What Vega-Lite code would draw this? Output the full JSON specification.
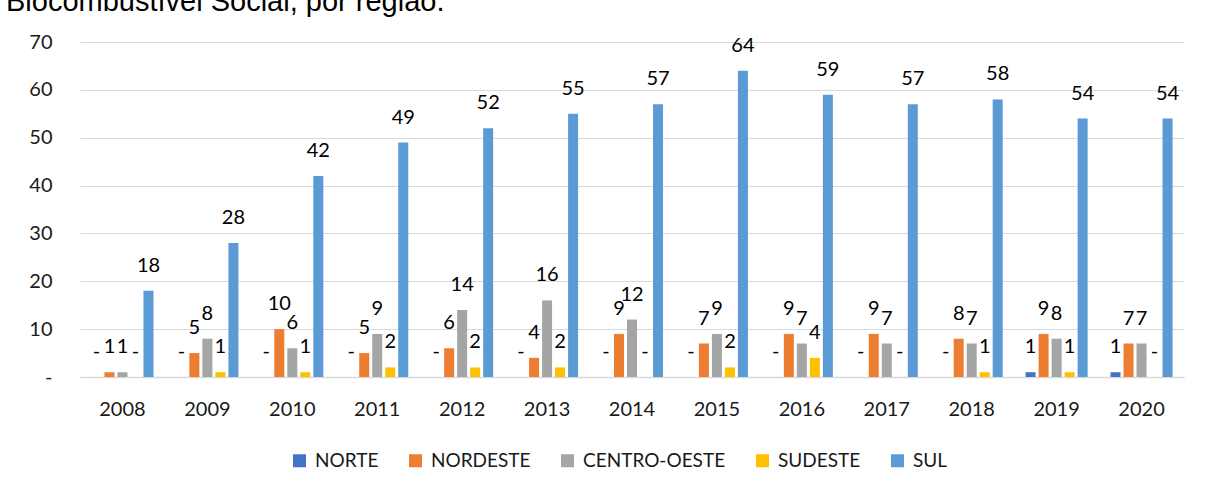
{
  "$schema": "https://vega.github.io/schema/vega-lite/v6.json",
  "autosize": {"type": "none"},
  "width": 1104,
  "height": 335,
  "padding": {"left": 80, "top": 42, "right": 28, "bottom": 114},
  "background": "white",
  "title": {
    "text": "Biocombustível Social, por região.",
    "anchor": "start",
    "frame": "group",
    "font": "Liberation Sans",
    "fontSize": 29,
    "fontWeight": "normal",
    "color": "#000000",
    "baseline": "alphabetic",
    "dx": -74,
    "offset": -8
  },
  "config": {
    "view": {"stroke": null},
    "font": "Lato"
  },
  "data": {
    "values": [
      {"ano": "2008", "regiao": "NORTE", "v": 0},
      {"ano": "2008", "regiao": "NORDESTE", "v": 1},
      {"ano": "2008", "regiao": "CENTRO-OESTE", "v": 1},
      {"ano": "2008", "regiao": "SUDESTE", "v": 0},
      {"ano": "2008", "regiao": "SUL", "v": 18},
      {"ano": "2009", "regiao": "NORTE", "v": 0},
      {"ano": "2009", "regiao": "NORDESTE", "v": 5},
      {"ano": "2009", "regiao": "CENTRO-OESTE", "v": 8},
      {"ano": "2009", "regiao": "SUDESTE", "v": 1},
      {"ano": "2009", "regiao": "SUL", "v": 28},
      {"ano": "2010", "regiao": "NORTE", "v": 0},
      {"ano": "2010", "regiao": "NORDESTE", "v": 10},
      {"ano": "2010", "regiao": "CENTRO-OESTE", "v": 6},
      {"ano": "2010", "regiao": "SUDESTE", "v": 1},
      {"ano": "2010", "regiao": "SUL", "v": 42},
      {"ano": "2011", "regiao": "NORTE", "v": 0},
      {"ano": "2011", "regiao": "NORDESTE", "v": 5},
      {"ano": "2011", "regiao": "CENTRO-OESTE", "v": 9},
      {"ano": "2011", "regiao": "SUDESTE", "v": 2},
      {"ano": "2011", "regiao": "SUL", "v": 49},
      {"ano": "2012", "regiao": "NORTE", "v": 0},
      {"ano": "2012", "regiao": "NORDESTE", "v": 6},
      {"ano": "2012", "regiao": "CENTRO-OESTE", "v": 14},
      {"ano": "2012", "regiao": "SUDESTE", "v": 2},
      {"ano": "2012", "regiao": "SUL", "v": 52},
      {"ano": "2013", "regiao": "NORTE", "v": 0},
      {"ano": "2013", "regiao": "NORDESTE", "v": 4},
      {"ano": "2013", "regiao": "CENTRO-OESTE", "v": 16},
      {"ano": "2013", "regiao": "SUDESTE", "v": 2},
      {"ano": "2013", "regiao": "SUL", "v": 55},
      {"ano": "2014", "regiao": "NORTE", "v": 0},
      {"ano": "2014", "regiao": "NORDESTE", "v": 9},
      {"ano": "2014", "regiao": "CENTRO-OESTE", "v": 12},
      {"ano": "2014", "regiao": "SUDESTE", "v": 0},
      {"ano": "2014", "regiao": "SUL", "v": 57},
      {"ano": "2015", "regiao": "NORTE", "v": 0},
      {"ano": "2015", "regiao": "NORDESTE", "v": 7},
      {"ano": "2015", "regiao": "CENTRO-OESTE", "v": 9},
      {"ano": "2015", "regiao": "SUDESTE", "v": 2},
      {"ano": "2015", "regiao": "SUL", "v": 64},
      {"ano": "2016", "regiao": "NORTE", "v": 0},
      {"ano": "2016", "regiao": "NORDESTE", "v": 9},
      {"ano": "2016", "regiao": "CENTRO-OESTE", "v": 7},
      {"ano": "2016", "regiao": "SUDESTE", "v": 4},
      {"ano": "2016", "regiao": "SUL", "v": 59},
      {"ano": "2017", "regiao": "NORTE", "v": 0},
      {"ano": "2017", "regiao": "NORDESTE", "v": 9},
      {"ano": "2017", "regiao": "CENTRO-OESTE", "v": 7},
      {"ano": "2017", "regiao": "SUDESTE", "v": 0},
      {"ano": "2017", "regiao": "SUL", "v": 57},
      {"ano": "2018", "regiao": "NORTE", "v": 0},
      {"ano": "2018", "regiao": "NORDESTE", "v": 8},
      {"ano": "2018", "regiao": "CENTRO-OESTE", "v": 7},
      {"ano": "2018", "regiao": "SUDESTE", "v": 1},
      {"ano": "2018", "regiao": "SUL", "v": 58},
      {"ano": "2019", "regiao": "NORTE", "v": 1},
      {"ano": "2019", "regiao": "NORDESTE", "v": 9},
      {"ano": "2019", "regiao": "CENTRO-OESTE", "v": 8},
      {"ano": "2019", "regiao": "SUDESTE", "v": 1},
      {"ano": "2019", "regiao": "SUL", "v": 54},
      {"ano": "2020", "regiao": "NORTE", "v": 1},
      {"ano": "2020", "regiao": "NORDESTE", "v": 7},
      {"ano": "2020", "regiao": "CENTRO-OESTE", "v": 7},
      {"ano": "2020", "regiao": "SUDESTE", "v": 0},
      {"ano": "2020", "regiao": "SUL", "v": 54}
    ]
  },
  "encoding": {
    "x": {
      "field": "ano",
      "type": "nominal",
      "scale": {"paddingInner": 0.234, "paddingOuter": 0.117},
      "axis": {
        "title": null,
        "labelAngle": 0,
        "labelFont": "Lato",
        "labelFontSize": 20,
        "labelColor": "#1a1a1a",
        "labelPadding": 22,
        "ticks": false,
        "domainColor": "#D9D9D9",
        "domainWidth": 1.5
      }
    },
    "xOffset": {
      "field": "regiao",
      "type": "nominal",
      "sort": ["NORTE", "NORDESTE", "CENTRO-OESTE", "SUDESTE", "SUL"],
      "scale": {"paddingInner": 0.23, "paddingOuter": 0.115}
    },
    "y": {
      "field": "v",
      "type": "quantitative",
      "scale": {"domain": [0, 70], "nice": false},
      "axis": {
        "title": null,
        "values": [0, 10, 20, 30, 40, 50, 60, 70],
        "labelExpr": "datum.value == 0 ? '-\u00a0\u00a0\u00a0' : datum.label",
        "labelFont": "Lato",
        "labelFontSize": 20,
        "labelColor": "#1a1a1a",
        "labelPadding": 28,
        "ticks": false,
        "domain": false,
        "gridColor": "#D9D9D9",
        "gridWidth": 1.2
      }
    }
  },
  "layer": [
    {
      "mark": {"type": "bar"},
      "encoding": {
        "color": {
          "field": "regiao",
          "type": "nominal",
          "sort": ["NORTE", "NORDESTE", "CENTRO-OESTE", "SUDESTE", "SUL"],
          "scale": {
            "domain": ["NORTE", "NORDESTE", "CENTRO-OESTE", "SUDESTE", "SUL"],
            "range": ["#4472C4", "#ED7D31", "#A5A5A5", "#FFC000", "#5B9BD5"]
          },
          "legend": {
            "title": null,
            "orient": "none",
            "direction": "horizontal",
            "legendX": 210,
            "legendY": 409,
            "symbolType": "square",
            "symbolSize": 169,
            "symbolStrokeWidth": 0,
            "labelFont": "Lato",
            "labelFontSize": 19,
            "labelColor": "#1a1a1a",
            "labelOffset": 6,
            "columnPadding": 27
          }
        }
      }
    },
    {
      "mark": {"type": "text", "baseline": "middle", "align": "center", "dy": -25, "font": "Lato", "fontSize": 20, "color": "#000000"},
      "encoding": {
        "text": {
          "condition": {"test": "datum.v == 0", "value": "-"},
          "field": "v",
          "type": "quantitative"
        }
      }
    }
  ]
}
